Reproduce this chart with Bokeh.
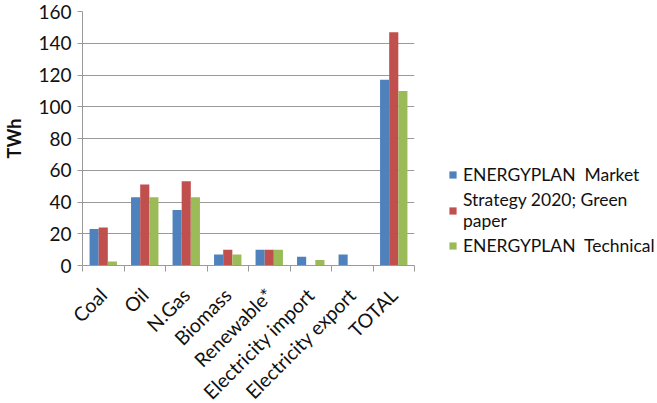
from math import pi
from bokeh.plotting import figure
from bokeh.models import ColumnDataSource, FixedTicker, Legend, LegendItem, Range1d
from bokeh.embed import file_html
from bokeh.resources import INLINE

categories = ["Coal", "Oil", "N.Gas", "Biomass", "Renewable*", "Electricity import", "Electricity export", "TOTAL"]
market = [23, 43, 35, 7, 10, 5.5, 7, 117]
strategy = [24, 51, 53, 10, 10, 0, 0, 147]
technical = [2.5, 43, 43, 7, 10, 3.5, 0.3, 110]
series_names = ["ENERGYPLAN  Market", "Strategy 2020; Green\npaper", "ENERGYPLAN  Technical"]
colors = ["#4F81BD", "#C0504D", "#9BBB59"]
y_ticks = [0, 20, 40, 60, 80, 100, 120, 140, 160]

FONT = "Lato"
n = len(categories)
centers = [i + 0.5 for i in range(n)]
bw = 0.22

p = figure(width=641, height=387, output_backend="svg", toolbar_location=None,
           x_range=Range1d(0, n), y_range=Range1d(0, 160),
           frame_width=332, frame_height=254,
           min_border_left=75, min_border_top=11, min_border_bottom=10, min_border_right=10)

renderers = []
for k, vals in enumerate([market, strategy, technical]):
    src = ColumnDataSource(dict(x=[c + (k - 1) * bw for c in centers], top=vals))
    r = p.vbar(x="x", top="top", width=bw, bottom=0, source=src, fill_color=colors[k], line_color=None)
    renderers.append(r)

p.outline_line_color = None
p.background_fill_color = "white"
p.xgrid.grid_line_color = None
p.ygrid.grid_line_color = "#9a9a9a"
p.ygrid.ticker = FixedTicker(ticks=y_ticks)
p.ygrid.grid_line_width = 1

p.yaxis.ticker = FixedTicker(ticks=y_ticks)
p.yaxis.axis_line_color = "#9a9a9a"
p.yaxis.major_tick_line_color = "#9a9a9a"
p.yaxis.major_tick_out = 5
p.yaxis.major_tick_in = 0
p.yaxis.minor_tick_line_color = None
p.yaxis.major_label_text_font = FONT
p.yaxis.major_label_text_font_size = "19px"
p.yaxis.major_label_text_color = "#111111"
p.yaxis.major_label_standoff = 6
p.yaxis.axis_label = "TWh"
p.yaxis.axis_label_text_font = FONT
p.yaxis.axis_label_text_font_style = "bold"
p.yaxis.axis_label_text_font_size = "18px"
p.yaxis.axis_label_text_color = "#111111"
p.yaxis.axis_label_standoff = 10

p.xaxis.ticker = FixedTicker(ticks=centers, minor_ticks=list(range(n + 1)))
p.xaxis.major_label_overrides = {c: categories[i] for i, c in enumerate(centers)}
p.xaxis.major_tick_line_color = None
p.xaxis.minor_tick_line_color = "#9a9a9a"
p.xaxis.minor_tick_out = 6
p.xaxis.minor_tick_in = 0
p.xaxis.axis_line_color = "#9a9a9a"
p.xaxis.major_label_orientation = pi / 4
p.xaxis.major_label_text_font = FONT
p.xaxis.major_label_text_font_size = "19.5px"
p.xaxis.major_label_text_color = "#111111"
p.xaxis.major_label_standoff = 20

legend = Legend(items=[LegendItem(label=series_names[k], renderers=[renderers[k]]) for k in range(3)],
                location=(34, 9), border_line_color=None, background_fill_alpha=0,
                label_text_font=FONT, label_text_font_size="17.5px", label_text_color="#111111",
                glyph_width=9, glyph_height=9, spacing=4, label_standoff=6, padding=0, margin=0)
p.add_layout(legend, "right")

open("out.html", "w").write(file_html(p, INLINE))
